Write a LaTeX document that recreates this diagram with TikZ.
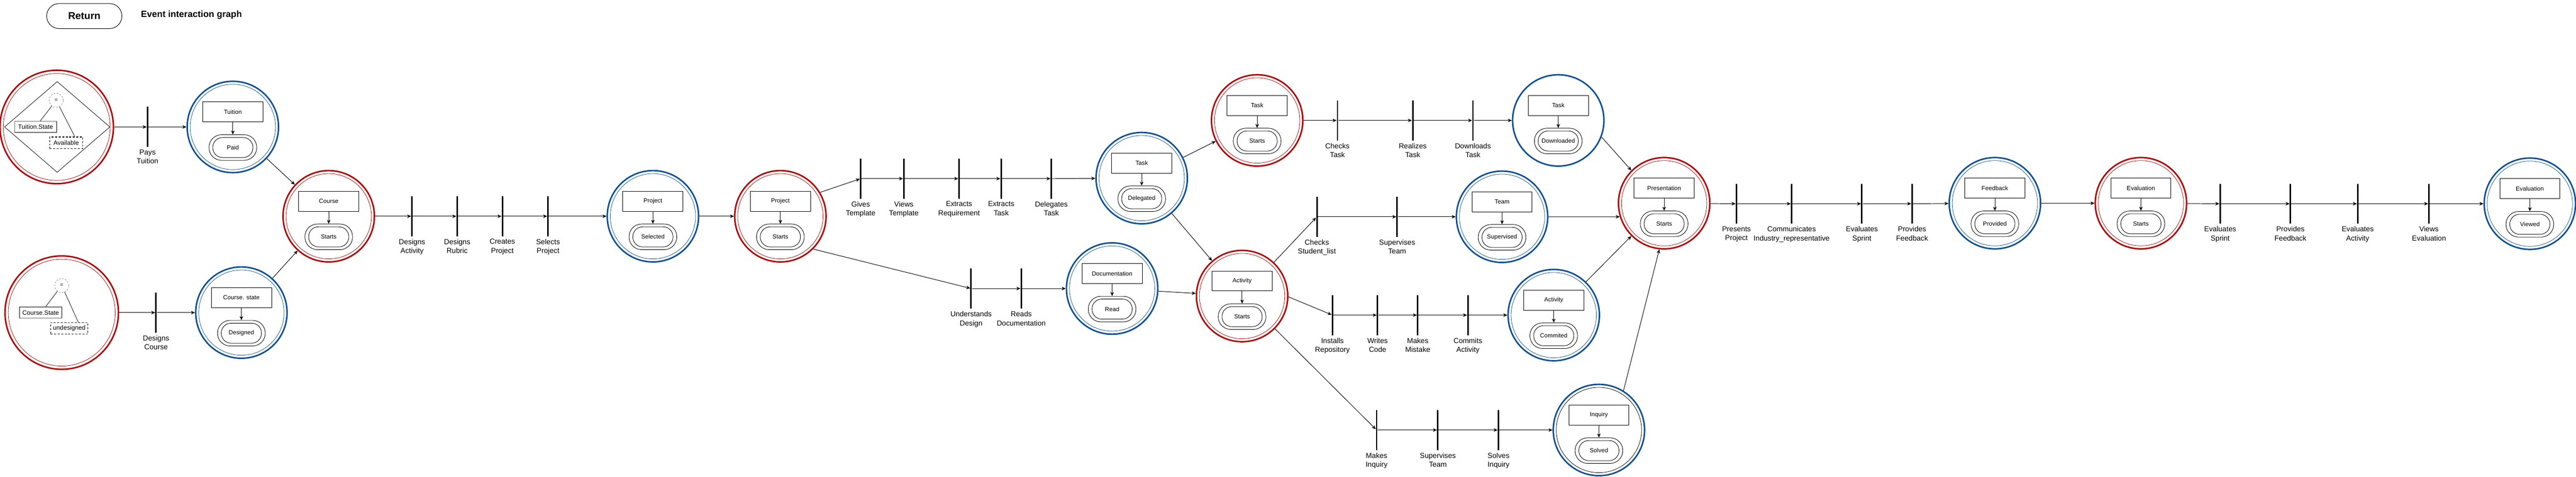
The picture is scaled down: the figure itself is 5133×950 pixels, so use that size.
\documentclass[tikz,border=0pt]{standalone}
\usepackage{fontspec}
\setmainfont{Liberation Sans}
\usetikzlibrary{arrows.meta,positioning,calc,shapes.geometric}
\definecolor{ringred}{RGB}{178,0,0}
\definecolor{ringblue}{RGB}{12,80,150}
\definecolor{boxgray}{RGB}{110,110,110}
\tikzset{
  ring/.style={circle, inner sep=0pt, minimum size=182pt, line width=3pt},
  innerring/.style={circle, inner sep=0pt, minimum size=170pt, line width=0.8pt},
  objbox/.style={rectangle, draw, line width=1pt, minimum width=120pt, minimum height=40pt, inner sep=0pt, font=\fontsize{12}{14}\selectfont},
  stadout/.style={rectangle, draw, line width=0.9pt, rounded corners=25pt, minimum width=95pt, minimum height=51pt, inner sep=0pt},
  stadin/.style={rectangle, draw, line width=0.9pt, rounded corners=19.5pt, minimum width=80pt, minimum height=40pt, inner sep=0pt, font=\fontsize{12}{14}\selectfont},
  evbarshape/.style={rectangle, fill=black, draw=none, minimum width=3pt, minimum height=80pt, inner sep=0pt},
  blabel/.style={align=center, inner sep=0pt, font=\fontsize{14.5}{18}\selectfont},
  arr/.style={line width=1pt, -{Stealth[length=8pt,width=7pt,inset=2.5pt]}},
  thinl/.style={line width=0.8pt},
  eqc/.style={circle, draw=gray, dashed, line width=0.8pt, minimum size=28pt, inner sep=0pt, font=\fontsize{11}{13}\selectfont},
  attrbox/.style={rectangle, draw=boxgray, line width=1.5pt, minimum height=22pt, inner sep=0pt, font=\fontsize{12.5}{14}\selectfont},
  valbox/.style={rectangle, draw, dash pattern=on 4pt off 3pt, line width=1.5pt, minimum height=23pt, inner sep=0pt, font=\fontsize{12.5}{14}\selectfont},
}
\newcommand\evstate[6]{%
  \node[ring, draw=#3] (#1) at (#2) {};
  \node[innerring, draw=#4] (#1-in) at (#2) {};
  \node[objbox] (#1-box) at ($(#2)+(0,-30)$) {#5};
  \node[stadout] (#1-st) at ($(#2)+(0,41)$) {};
  \node[stadin] (#1-sti) at ($(#2)+(0,41)$) {#6};
  \draw[arr] (#1-box.south) -- (#1-st.north);
}
\newcommand\evbar[3]{%
  \node[evbarshape] (#1) at (#2) {};
  \node[blabel, below=5pt of #1] (#1-l) {#3};
}
\begin{document}
\begin{tikzpicture}[x=1pt,y=-1pt]
\useasboundingbox (0,0) rectangle (5133,950);

% header
\node[draw, line width=1pt, rounded corners=25pt, minimum width=150pt, minimum height=50pt, inner sep=0pt, font=\fontsize{20}{24}\selectfont\bfseries] (ret) at (168,32) {Return};
\node[inner sep=0pt, font=\fontsize{18}{22}\selectfont\bfseries] (evtitle) at (381.5,30) {Event interaction graph};

% initial state: tuition
\node[ring, minimum size=226pt, draw=ringred] (tst) at (113,253) {};
\node[innerring, minimum size=213pt, draw=ringred] (tst-in) at (113,253) {};
\node[diamond, draw, line width=0.8pt, minimum width=210pt, minimum height=181pt, inner sep=0pt] (tst-dia) at (114,253) {};
\node[eqc] (tst-eq) at (112,200) {=};
\node[attrbox, minimum width=84pt] (tst-attr) at (71,253) {Tuition.State};
\node[valbox, minimum width=66pt] (tst-val) at (132,284.5) {Available};
\draw[thinl] (tst-eq) -- ([xshift=9pt]tst-attr.north);
\draw[thinl] (tst-eq) -- ([xshift=17pt]tst-val.north);

% initial state: course
\node[ring, minimum size=226pt, draw=ringred] (cst) at (123,623) {};
\node[innerring, minimum size=213pt, draw=ringred] (cst-in) at (123,623) {};
\node[eqc] (cst-eq) at (123,569) {=};
\node[attrbox, minimum width=84pt] (cst-attr) at (81,623) {Course.State};
\node[valbox, minimum width=74pt] (cst-val) at (138,654.5) {undesigned};
\draw[thinl] (cst-eq) -- ([xshift=10pt]cst-attr.north);
\draw[thinl] (cst-eq) -- ([xshift=18pt]cst-val.north);

% states
\evstate{tuitbl}{464,253}{ringblue}{ringblue}{Tuition}{Paid}
\evstate{coursebl}{481,623}{ringblue}{ringblue}{Course. state}{Designed}
\evstate{coursered}{655,431}{ringred}{ringred}{Course}{Starts}
\evstate{projbl}{1301,431}{ringblue}{ringblue}{Project}{Selected}
\evstate{projred}{1555,431}{ringred}{ringred}{Project}{Starts}
\evstate{taskdel}{2275,355}{ringblue}{ringblue}{Task}{Delegated}
\evstate{doc}{2216,575}{ringblue}{ringblue}{Documentation}{Read}
\evstate{taskred}{2505,240}{ringred}{ringred}{Task}{Starts}
\evstate{actred}{2475,590}{ringred}{ringred}{Activity}{Starts}
\evstate{taskdl}{3105,240}{ringblue}{none}{Task}{Downloaded}
\evstate{team}{2993,432}{ringblue}{ringblue}{Team}{Supervised}
\evstate{actbl}{3096,628}{ringblue}{ringblue}{Activity}{Commited}
\evstate{inq}{3186,857}{ringblue}{black}{Inquiry}{Solved}
\evstate{pres}{3316,405}{ringred}{ringred}{Presentation}{Starts}
\evstate{feed}{3975,405}{ringblue}{ringblue}{Feedback}{Provided}
\evstate{evalred}{4266,405}{ringred}{ringred}{Evaluation}{Starts}
\evstate{evalbl}{5041,406}{ringblue}{ringblue}{Evaluation}{Viewed}

% event bars
\evbar{b1}{294,253}{Pays\\Tuition}
\evbar{b2}{311,623}{Designs\\Course}
\evbar{b3}{821,431}{Designs\\Activity}
\evbar{b4}{911,431}{Designs\\Rubric}
\evbar{b5}{1001,431}{Creates\\Project}
\evbar{b6}{1092,431}{Selects\\Project}
\evbar{b7}{1715,356}{Gives\\Template}
\evbar{b8}{1801,356}{Views\\Template}
\evbar{b9}{1911,356}{Extracts\\Requirement}
\evbar{b10}{1995,356}{Extracts\\Task}
\evbar{b11}{2095,356}{Delegates\\Task}
\evbar{b12}{1935,575}{Understands\\Design}
\evbar{b13}{2035,575}{Reads\\Documentation}
\evbar{b14}{2665,240}{Checks\\Task}
\evbar{b15}{2815,240}{Realizes\\Task}
\evbar{b16}{2935,240}{Downloads\\Task}
\evbar{b17}{2624,432}{Checks\\Student\_list}
\evbar{b18}{2784,432}{Supervises\\Team}
\evbar{b19}{2655,628}{Installs\\Repository}
\evbar{b20}{2745,628}{Writes\\Code}
\evbar{b21}{2825,628}{Makes\\Mistake}
\evbar{b22}{2925,628}{Commits\\Activity}
\evbar{b23}{2743,857}{Makes\\Inquiry}
\evbar{b24}{2865,857}{Supervises\\Team}
\evbar{b25}{2986,857}{Solves\\Inquiry}
\evbar{b26}{3460,406}{Presents\\Project}
\evbar{b27}{3570,406}{Communicates\\Industry\_representative}
\evbar{b28}{3710,406}{Evaluates\\Sprint}
\evbar{b29}{3810,406}{Provides\\Feedback}
\evbar{b30}{4424,406}{Evaluates\\Sprint}
\evbar{b31}{4564,406}{Provides\\Feedback}
\evbar{b32}{4698,406}{Evaluates\\Activity}
\evbar{b33}{4840,406}{Views\\Evaluation}

% connectors
\draw[arr] (tst) -- (b1);
\draw[arr] (b1) -- (tuitbl);
\draw[arr] (cst) -- (b2);
\draw[arr] (b2) -- (coursebl);
\draw[arr] (tuitbl) -- (coursered);
\draw[arr] (coursebl) -- (coursered);
\draw[arr] (coursered) -- (b3);
\draw[arr] (b3) -- (b4);
\draw[arr] (b4) -- (b5);
\draw[arr] (b5) -- (b6);
\draw[arr] (b6) -- (projbl);
\draw[arr] (projbl) -- (projred);
\draw[arr] (projred.31) -- (b7);
\draw[arr] (b7) -- (b8);
\draw[arr] (b8) -- (b9);
\draw[arr] (b9) -- (b10);
\draw[arr] (b10) -- (b11);
\draw[arr] (b11) -- (taskdel);
\draw[arr] (projred.-45) -- (b12);
\draw[arr] (b12) -- (b13);
\draw[arr] (b13) -- (doc);
\draw[arr] (taskdel) -- (taskred);
\draw[arr] (taskdel) -- (actred);
\draw[arr] (doc) -- (actred);
\draw[arr] (taskred) -- (b14);
\draw[arr] (b14) -- (b15);
\draw[arr] (b15) -- (b16);
\draw[arr] (b16) -- (taskdl);
\draw[arr] (actred) -- (b17);
\draw[arr] (b17) -- (b18);
\draw[arr] (b18) -- (team);
\draw[arr] (actred.-1) -- (b19);
\draw[arr] (b19) -- (b20);
\draw[arr] (b20) -- (b21);
\draw[arr] (b21) -- (b22);
\draw[arr] (b22) -- (actbl);
\draw[arr] (actred) -- (b23);
\draw[arr] (b23) -- (b24);
\draw[arr] (b24) -- (b25);
\draw[arr] (b25) -- (inq);
\draw[arr] (taskdl.-21) -- (pres.135);
\draw[arr] (team.east) -- (pres.197);
\draw[arr] (actbl.46) -- (pres.225);
\draw[arr] (inq.58) -- (pres.264);
\draw[arr] (pres) -- (b26);
\draw[arr] (b26) -- (b27);
\draw[arr] (b27) -- (b28);
\draw[arr] (b28) -- (b29);
\draw[arr] (b29) -- (feed);
\draw[arr] (feed) -- (evalred);
\draw[arr] (evalred) -- (b30);
\draw[arr] (b30) -- (b31);
\draw[arr] (b31) -- (b32);
\draw[arr] (b32) -- (b33);
\draw[arr] (b33) -- (evalbl);
\end{tikzpicture}
\end{document}
